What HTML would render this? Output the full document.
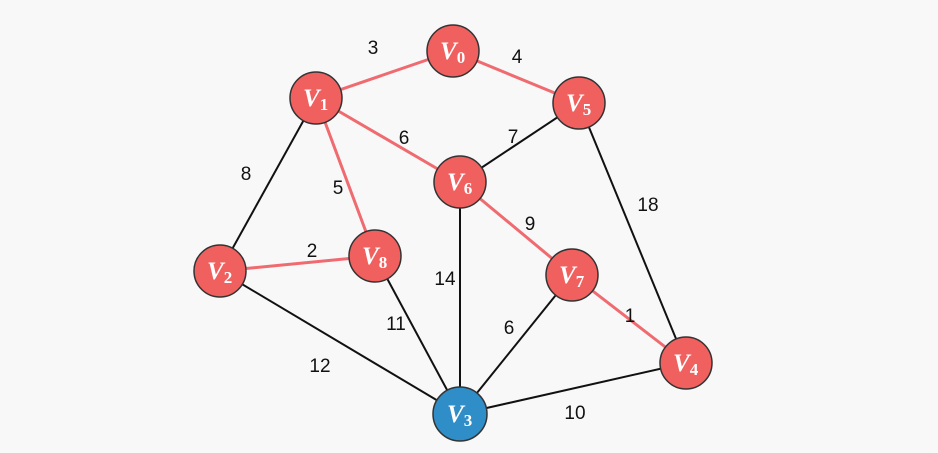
<!DOCTYPE html>
<html><head><style>body{margin:0;background:#f8f8f8}</style></head><body>
<svg width="938" height="453" xmlns="http://www.w3.org/2000/svg" style="display:block">
<rect width="938" height="453" fill="#f8f8f8"/>
<g stroke="#ef6b70" stroke-width="3">
<line x1="316" y1="98" x2="453" y2="51"/>
<line x1="453" y1="51" x2="579" y2="103"/>
<line x1="316" y1="98" x2="460" y2="182"/>
<line x1="316" y1="98" x2="375" y2="256"/>
<line x1="220" y1="271" x2="375" y2="256"/>
<line x1="460" y1="182" x2="572" y2="275"/>
<line x1="572" y1="275" x2="686" y2="363"/>
</g>
<g stroke="#111" stroke-width="2">
<line x1="579" y1="103" x2="460" y2="182"/>
<line x1="579" y1="103" x2="686" y2="363"/>
<line x1="316" y1="98" x2="220" y2="271"/>
<line x1="460" y1="182" x2="460" y2="414"/>
<line x1="375" y1="256" x2="460" y2="414"/>
<line x1="220" y1="271" x2="460" y2="414"/>
<line x1="572" y1="275" x2="460" y2="414"/>
<line x1="686" y1="363" x2="460" y2="414"/>
</g>
<g font-family="Liberation Sans, sans-serif" font-size="19" fill="#111" text-anchor="middle">
<text x="373" y="54">3</text><text x="517" y="63">4</text>
<text x="404" y="144">6</text><text x="513" y="143">7</text>
<text x="246" y="180">8</text><text x="338" y="194">5</text>
<text x="312" y="257">2</text><text x="648" y="211">18</text>
<text x="530" y="230">9</text><text x="445" y="285">14</text>
<text x="630" y="322">1</text><text x="396" y="330">11</text>
<text x="509" y="334">6</text><text x="320" y="372">12</text>
<text x="575" y="419">10</text>
</g>
<g stroke="#333" stroke-width="1.5">
<g fill="#f0605f">
<circle cx="453" cy="51" r="26"/><circle cx="316" cy="98" r="26"/><circle cx="579" cy="103" r="26"/>
<circle cx="460" cy="182" r="26"/><circle cx="375" cy="256" r="26"/><circle cx="220" cy="271" r="26"/>
<circle cx="572" cy="275" r="26"/><circle cx="686" cy="363" r="26"/>
</g>
<circle cx="460" cy="414" r="27" fill="#2f8ec8"/>
</g>
<g font-family="Liberation Serif, serif" font-style="italic" font-weight="bold" fill="#fff" stroke="none" font-size="25">
<text x="440" y="59">V<tspan font-size="17" font-style="normal" dy="4">0</tspan></text>
<text x="303" y="106">V<tspan font-size="17" font-style="normal" dy="4">1</tspan></text>
<text x="566" y="111">V<tspan font-size="17" font-style="normal" dy="4">5</tspan></text>
<text x="447" y="190">V<tspan font-size="17" font-style="normal" dy="4">6</tspan></text>
<text x="362" y="264">V<tspan font-size="17" font-style="normal" dy="4">8</tspan></text>
<text x="207" y="279">V<tspan font-size="17" font-style="normal" dy="4">2</tspan></text>
<text x="559" y="283">V<tspan font-size="17" font-style="normal" dy="4">7</tspan></text>
<text x="673" y="371">V<tspan font-size="17" font-style="normal" dy="4">4</tspan></text>
<text x="447" y="422">V<tspan font-size="17" font-style="normal" dy="4">3</tspan></text>
</g>
</svg>
</body></html>
